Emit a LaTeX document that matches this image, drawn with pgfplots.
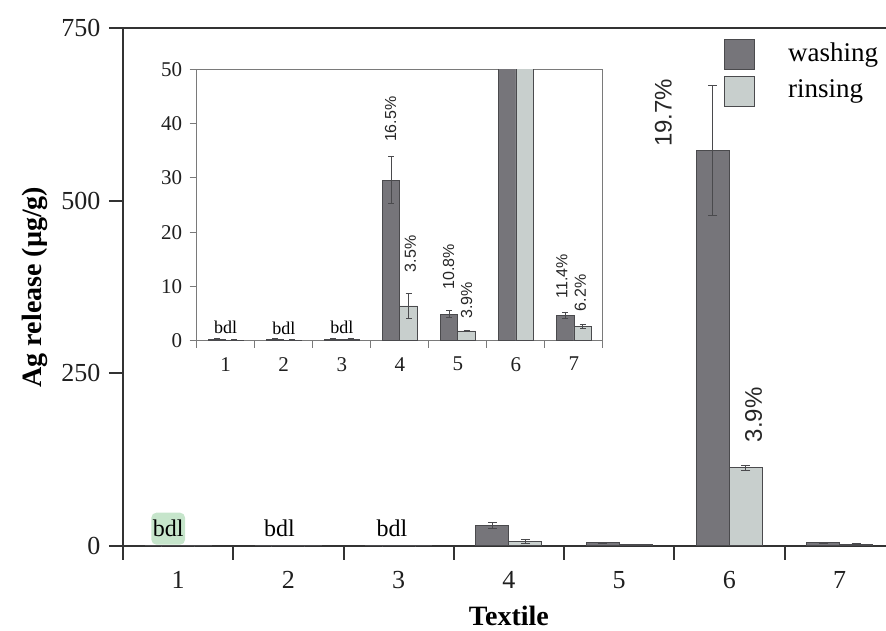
\documentclass[border=0pt]{standalone}
\usepackage{pgfplots}
\pgfplotsset{compat=1.18}
\usepackage{pgfplotstable}
\usepackage{fontspec}
\setmainfont{Liberation Serif}
\newfontfamily\pctfont{Liberation Sans}
\definecolor{washc}{HTML}{76757A}
\definecolor{rinsec}{HTML}{C8CFCD}
\definecolor{edgec}{HTML}{4A4A4D}
\definecolor{axc}{HTML}{333333}
\definecolor{inc}{HTML}{7A7A7A}
\definecolor{hlc}{HTML}{C6E5CB}

\pgfplotstableread{
x y e
1 0.30 0.10
2 0.25 0.10
3 0.30 0.10
4 29.6 4.3
5 4.9 0.6
6 573 94
7 4.7 0.6
}\wash
\pgfplotstableread{
x y e
1 0.12 0.05
2 0.10 0.05
3 0.30 0.10
4 6.4 2.3
5 1.8 0.1
6 113 4
7 2.6 0.4
}\rinse

\begin{document}
\begin{tikzpicture}
\path[use as bounding box] (-123pt,-85pt) rectangle (763pt,546pt);
\begin{axis}[
  at={(0pt,0pt)}, anchor=south west,
  width=763pt, height=518pt, scale only axis,
  xmin=0.5, xmax=7.42, ymin=0, ymax=750,
  axis x line*=bottom, axis y line*=left,
  axis line style={axc, line width=2pt},
  clip=false,
  /pgf/number format/assume math mode=true,
  ytick={0,250,500,750},
  xtick={0.5,1.5,...,6.5},
  xticklabels={1,2,3,4,5,6,7},
  xticklabel style={xshift=55.15pt, yshift=-8pt},
  yticklabel style={xshift=-5pt},
  tick align=outside,
  major tick length=14pt,
  tick style={axc, line width=2pt},
  tick label style={font=\fontsize{26}{30}\selectfont, text=black!88},
  every axis y label/.style={at={(axis description cs:0,0.5)}, xshift=-88pt, rotate=90, anchor=center, font=\fontsize{28}{32}\selectfont\bfseries},
  every axis x label/.style={at={(axis cs:4,0)}, yshift=-70pt, anchor=center, inner sep=0pt, font=\fontsize{28}{32}\selectfont\bfseries},
  ylabel={Ag release (µg/g)},
  xlabel={Textile},
  error bars/error bar style={edgec, line width=1pt},
  error bars/error mark options={rotate=90, edgec, line width=1pt, mark size=4.5pt},
  legend style={at={(axis cs:5.95,734)}, anchor=north west, draw=none, fill=none, inner sep=0pt,
    nodes={inner sep=1pt},
    font=\fontsize{27}{30}\selectfont, row sep=6pt, /tikz/every odd column/.append style={column sep=32pt}},
  legend cell align=left,
]
\addplot[ybar, bar width=0.3, bar shift=0pt, fill=washc, draw=edgec, line width=1pt,
  error bars/.cd, y dir=both, y explicit,
  /pgfplots/legend image code/.code={\draw[fill=washc, draw=edgec, line width=1pt] (0pt,-17pt) rectangle (30pt,13pt);}]
  table[x expr=\thisrow{x}-0.15, y=y, y error=e]{\wash};
\addlegendentry{washing}
\addplot[ybar, bar width=0.3, bar shift=0pt, fill=rinsec, draw=edgec, line width=1pt,
  error bars/.cd, y dir=both, y explicit,
  /pgfplots/legend image code/.code={\draw[fill=rinsec, draw=edgec, line width=1pt] (0pt,-17pt) rectangle (30pt,13pt);}]
  table[x expr=\thisrow{x}+0.15, y=y, y error=e]{\rinse};
\addlegendentry{rinsing}
\draw[axc, line width=2pt] (rel axis cs:0,1) -- (rel axis cs:1,1);
\node[font=\fontsize{24}{28}\selectfont, anchor=base, fill=hlc, rounded corners=5pt, inner xsep=1.5pt, inner ysep=1pt, text height=23pt, text depth=7pt] at (axis cs:0.91,13.5) {bdl};
\node[font=\fontsize{24}{28}\selectfont, anchor=base] at (axis cs:1.92,13.5) {bdl};
\node[font=\fontsize{24}{28}\selectfont, anchor=base] at (axis cs:2.94,13.5) {bdl};
\node[font=\pctfont\fontsize{24}{28}\selectfont, rotate=90, anchor=center, text=black!85] at (axis cs:5.40,627) {19.7\%};
\node[font=\pctfont\fontsize{24}{28}\selectfont, rotate=90, anchor=center, text=black!85] at (axis cs:6.22,190) {3.9\%};
\end{axis}

\begin{axis}[
  at={(73.7pt,205.3pt)}, anchor=south west,
  width=406.3pt, height=271.4pt, scale only axis,
  xmin=0.5, xmax=7.5, ymin=0, ymax=50,
  axis background/.style={fill=white},
  axis line style={inc, line width=1pt},
  /pgf/number format/assume math mode=true,
  ytick={0,10,...,50},
  xtick={0.5,1.5,...,7.5},
  xticklabels={1,2,3,4,5,6,7,{}},
  xticklabel style={xshift=29pt, yshift=-6pt},
  yticklabel style={xshift=-4pt},
  xtick pos=bottom, ytick pos=left,
  tick align=outside,
  major tick length=7pt,
  tick style={inc, line width=1pt},
  tick label style={font=\fontsize{21}{25}\selectfont, text=black!88},
  error bars/error bar style={edgec, line width=0.8pt},
  error bars/error mark options={rotate=90, edgec, line width=0.8pt, mark size=3pt},
]
\addplot[ybar, bar width=0.3, bar shift=0pt, fill=washc, draw=edgec, line width=0.8pt,
  error bars/.cd, y dir=both, y explicit]
  table[x expr=\thisrow{x}-0.15, y=y, y error=e]{\wash};
\addplot[ybar, bar width=0.3, bar shift=0pt, fill=rinsec, draw=edgec, line width=0.8pt,
  error bars/.cd, y dir=both, y explicit]
  table[x expr=\thisrow{x}+0.15, y=y, y error=e]{\rinse};
\node[font=\fontsize{18}{20}\selectfont, anchor=base] at (axis cs:1,1.3) {bdl};
\node[font=\fontsize{18}{20}\selectfont, anchor=base] at (axis cs:2,1.1) {bdl};
\node[font=\fontsize{18}{20}\selectfont, anchor=base] at (axis cs:3,1.3) {bdl};
\node[font=\pctfont\fontsize{16}{18}\selectfont, rotate=90, anchor=center, text=black!85] at (axis cs:3.84,40.8) {16.5\%};
\node[font=\pctfont\fontsize{16}{18}\selectfont, rotate=90, anchor=center, text=black!85] at (axis cs:4.18,16.0) {3.5\%};
\node[font=\pctfont\fontsize{16}{18}\selectfont, rotate=90, anchor=center, text=black!85] at (axis cs:4.84,13.6) {10.8\%};
\node[font=\pctfont\fontsize{16}{18}\selectfont, rotate=90, anchor=center, text=black!85] at (axis cs:5.15,7.4) {3.9\%};
\node[font=\pctfont\fontsize{16}{18}\selectfont, rotate=90, anchor=center, text=black!85] at (axis cs:6.79,11.9) {11.4\%};
\node[font=\pctfont\fontsize{16}{18}\selectfont, rotate=90, anchor=center, text=black!85] at (axis cs:7.11,8.8) {6.2\%};
\end{axis}
\end{tikzpicture}
\end{document}
